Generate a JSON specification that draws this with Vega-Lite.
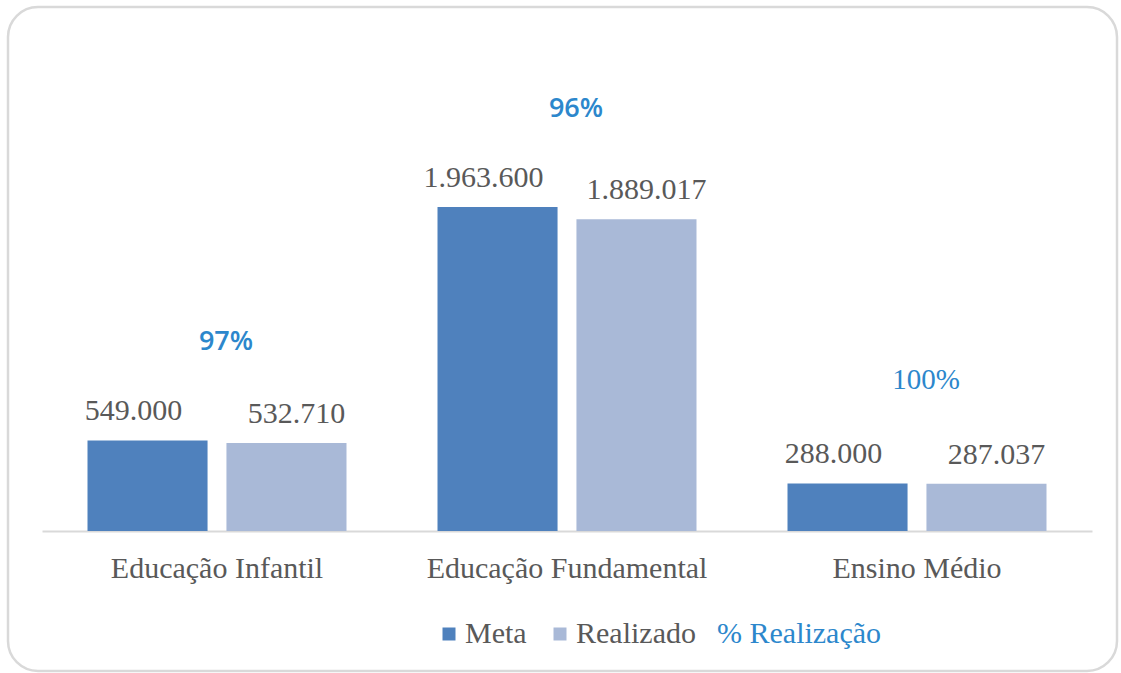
{
  "$schema": "https://vega.github.io/schema/vega-lite/v6.json",
  "autosize": {"type": "none"},
  "width": 1109,
  "height": 664,
  "padding": {"left": 8, "top": 7, "right": 4, "bottom": 2},
  "background": "white",
  "config": {
    "view": {"stroke": "#D9D9D9", "strokeWidth": 2.5, "cornerRadius": 30},
    "locale": {"number": {"decimal": ",", "thousands": ".", "grouping": [3], "currency": ["R$ ", ""]}},
    "font": "'Liberation Serif', 'DejaVu Serif', serif"
  },
  "datasets": {
    "valores": [
      {"categoria": "Educação Infantil", "serie": "Meta", "valor": 549000},
      {"categoria": "Educação Infantil", "serie": "Realizado", "valor": 532710},
      {"categoria": "Educação Fundamental", "serie": "Meta", "valor": 1963600},
      {"categoria": "Educação Fundamental", "serie": "Realizado", "valor": 1889017},
      {"categoria": "Ensino Médio", "serie": "Meta", "valor": 288000},
      {"categoria": "Ensino Médio", "serie": "Realizado", "valor": 287037}
    ],
    "pct": [
      {"categoria": "Educação Infantil", "meta": 549000, "pct": "97%"},
      {"categoria": "Educação Fundamental", "meta": 1963600, "pct": "96%"},
      {"categoria": "Ensino Médio", "meta": 288000, "pct": "100%"}
    ]
  },
  "encoding": {
    "x": {
      "field": "categoria", "type": "nominal",
      "sort": ["Educação Infantil", "Educação Fundamental", "Ensino Médio"],
      "scale": {"range": [34, 1084], "paddingInner": 0.26, "paddingOuter": 0.13},
      "axis": {
        "title": null, "orient": "bottom", "offset": -140,
        "domainColor": "#D9D9D9", "domainWidth": 2, "ticks": false,
        "labelAngle": 0, "labelFont": "'Liberation Serif', 'DejaVu Serif', serif", "labelFontSize": 30,
        "labelColor": "#595959", "labelPadding": 22, "labelLimit": 500
      }
    }
  },
  "layer": [
    {
      "data": {"name": "valores"},
      "mark": {"type": "bar"},
      "encoding": {
        "xOffset": {"field": "serie", "type": "nominal", "sort": ["Meta", "Realizado"], "scale": {"paddingInner": 0.136, "paddingOuter": 0}},
        "y": {"field": "valor", "type": "quantitative", "scale": {"domain": [0, 2600000], "range": [524, 95]}, "axis": null},
        "color": {
          "field": "serie", "type": "nominal",
          "scale": {"domain": ["Meta", "Realizado", "% Realização"], "range": ["#4F81BD", "#A9B9D7", "#FFFFFF"]},
          "legend": {
            "orient": "none", "legendX": 426, "legendY": 612,
            "direction": "horizontal", "title": null,
            "symbolType": "square", "symbolSize": 169, "symbolStrokeWidth": 0,
            "labelFont": "'Liberation Serif', 'DejaVu Serif', serif", "labelFontSize": 30, "labelColor": "#595959",
            "labelOffset": 1, "columnPadding": 18, "padding": 0, "labelLimit": 500,
            "encode": {
              "labels": {"update": {
                "fill": {"signal": "datum.label === '% Realização' ? '#2C87CC' : '#595959'"},
                "dx": {"signal": "datum.label === '% Realização' ? -28 : 0"}
              }},
              "symbols": {"update": {"opacity": {"signal": "datum.label === '% Realização' ? 0 : 1"}}}
            }
          }
        }
      }
    },
    {
      "data": {"name": "valores"},
      "transform": [{"filter": "datum.serie === 'Meta'"}],
      "mark": {"type": "text", "baseline": "alphabetic", "dy": -20, "dx": -14, "font": "'Liberation Serif', 'DejaVu Serif', serif", "fontSize": 30, "color": "#595959"},
      "encoding": {
        "xOffset": {"field": "serie", "type": "nominal", "sort": ["Meta", "Realizado"], "scale": {"paddingInner": 0.136, "paddingOuter": 0}},
        "y": {"field": "valor", "type": "quantitative", "scale": {"domain": [0, 2600000], "range": [524, 95]}, "axis": null},
        "text": {"field": "valor", "type": "quantitative", "format": ",.0f"}
      }
    },
    {
      "data": {"name": "valores"},
      "transform": [{"filter": "datum.serie === 'Realizado'"}],
      "mark": {"type": "text", "baseline": "alphabetic", "dy": -20, "dx": 10, "font": "'Liberation Serif', 'DejaVu Serif', serif", "fontSize": 30, "color": "#595959"},
      "encoding": {
        "xOffset": {"field": "serie", "type": "nominal", "sort": ["Meta", "Realizado"], "scale": {"paddingInner": 0.136, "paddingOuter": 0}},
        "y": {"field": "valor", "type": "quantitative", "scale": {"domain": [0, 2600000], "range": [524, 95]}, "axis": null},
        "text": {"field": "valor", "type": "quantitative", "format": ",.0f"}
      }
    },
    {
      "data": {"name": "pct"},
      "transform": [{"filter": "datum.categoria !== 'Ensino Médio'"}],
      "mark": {"type": "text", "baseline": "alphabetic", "dy": -90, "dx": 9, "font": "'Open Sans', sans-serif", "fontSize": 27, "fontWeight": 600, "color": "#2C87CC"},
      "encoding": {
        "y": {"field": "meta", "type": "quantitative", "scale": {"domain": [0, 2600000], "range": [524, 95]}, "axis": null},
        "text": {"field": "pct", "type": "nominal"}
      }
    },
    {
      "data": {"name": "pct"},
      "transform": [{"filter": "datum.categoria === 'Ensino Médio'"}],
      "mark": {"type": "text", "baseline": "alphabetic", "dy": -94, "dx": 9, "font": "'Liberation Serif', 'DejaVu Serif', serif", "fontSize": 29, "color": "#2C87CC"},
      "encoding": {
        "y": {"field": "meta", "type": "quantitative", "scale": {"domain": [0, 2600000], "range": [524, 95]}, "axis": null},
        "text": {"field": "pct", "type": "nominal"}
      }
    }
  ]
}
